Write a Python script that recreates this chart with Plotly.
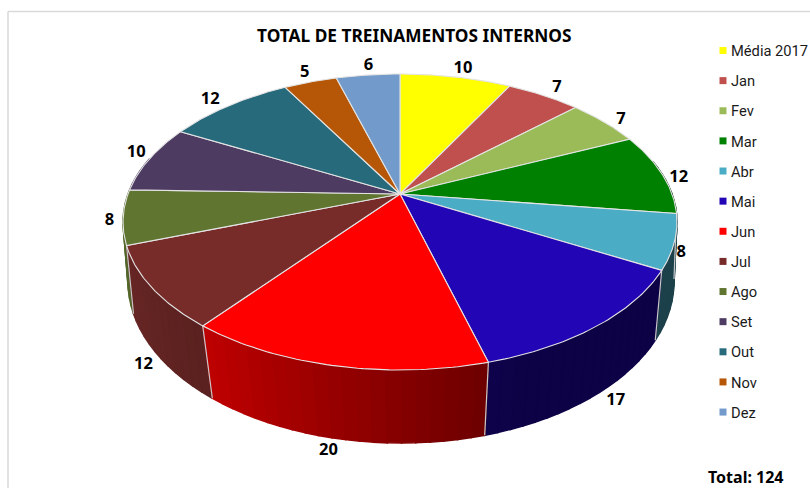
import numpy as np
import plotly.graph_objects as go

title = "TOTAL DE TREINAMENTOS INTERNOS"
categories = ["Média 2017", "Jan", "Fev", "Mar", "Abr", "Mai", "Jun", "Jul", "Ago", "Set", "Out", "Nov", "Dez"]
values = [10, 7, 7, 12, 8, 17, 20, 12, 8, 10, 12, 5, 6]
colors = ["#FFFF00", "#C0504D", "#9BBB59", "#008000", "#4BACC6", "#2205B5", "#FF0000",
          "#772C2A", "#5F7530", "#4D3B62", "#276A7C", "#B65708", "#729ACA"]
total_label = "Total: 124"

W, H = 810, 488
FONT = "Noto Sans"
LEGEND_FONT = "Roboto"
TOP = dict(cx=400, cy=194, a=272, b=142.7, k=0.189)
BOT = dict(cx=401, cy=257.6, a=270, b=158, k=0.148)
LEG_X, LEG_Y0, LEG_DY = 723, 50.5, 30.13
ANGLE_LEAD = np.radians(1.3)  # the reference's perspective widens the first slice slightly
# small hand placement of each data label relative to its computed anchor
label_dx = [3, 2, 0, -6, -2, 13, -6, -2, -5, 8, -5, 1, 3]
label_dy = [1, 0, 4, 6, 10, -7, -1, -1, 3, -3, 1, -1, 0]


def project(theta, r, d):
    u, v = r * np.sin(theta), r * np.cos(theta)
    w = 1 + d["k"] * v
    return d["cx"] + d["a"] * u / w, d["cy"] - d["b"] * v / w


def shade(hex_color, f):
    rgb = [int(hex_color[i:i + 2], 16) for i in (1, 3, 5)]
    return "rgb({},{},{})".format(*[int(round(c * f)) for c in rgb])


edges = np.cumsum([0] + values) / sum(values) * 2 * np.pi
edges[1:] = edges[1:] + ANGLE_LEAD * (1 - edges[1:] / (2 * np.pi))
fig = go.Figure()

# side wall, drawn from the outside of the pie towards the front
segments = []
for i, c in enumerate(colors):
    a0, a1 = edges[i], edges[i + 1]
    n = max(2, int((a1 - a0) / np.radians(2.5)))
    g = np.linspace(a0, a1, n + 1)
    for t0, t1 in zip(g[:-1], g[1:]):
        mid = (t0 + t1) / 2
        if np.cos(mid) < 0.25:
            segments.append((np.cos(mid), t0, t1, c))
segments.sort(key=lambda s: -s[0])
for _, t0, t1, c in segments:
    tt = np.linspace(t0, t1, 3)
    xt, yt = project(tt, 1, TOP)
    xb, yb = project(tt[::-1], 1, BOT)
    f = max(0.38, 0.52 - 0.37 * np.sin((t0 + t1) / 2))
    col = shade(c, f)
    fig.add_trace(go.Scatter(x=np.r_[xt, xb, xt[0]], y=np.r_[yt, yb, yt[0]], mode="lines",
                             fill="toself", fillcolor=col, line=dict(color=col, width=1.5),
                             hoverinfo="skip", showlegend=False))

# separators on the side wall
for e in edges:
    if np.cos(e) < 0:
        x0, y0 = project(e, 1, TOP)
        x1, y1 = project(e, 1, BOT)
        fig.add_trace(go.Scatter(x=[x0, x1], y=[y0, y1], mode="lines",
                                 line=dict(color="#C8C8C8", width=1.2),
                                 hoverinfo="skip", showlegend=False))

# top faces
for i, c in enumerate(colors):
    tt = np.linspace(edges[i], edges[i + 1], 60)
    x, y = project(tt, 1, TOP)
    fig.add_trace(go.Scatter(x=np.r_[TOP["cx"], x, TOP["cx"]], y=np.r_[TOP["cy"], y, TOP["cy"]],
                             mode="lines", fill="toself", fillcolor=c,
                             line=dict(color="#E4E4E4", width=1.1), name=categories[i],
                             showlegend=False))

# data labels
lx, ly = [], []
for i in range(len(values)):
    mid = (edges[i] + edges[i + 1]) / 2
    cv = np.cos(mid)
    if cv < -0.4:
        px, py = project(mid, 1.06, BOT)
    elif cv < 0.1:
        px, py = project(mid, 1.03, TOP)
    else:
        px, py = project(mid, 1.09, TOP)
    lx.append(float(px) + label_dx[i])
    ly.append(float(py) + label_dy[i])
fig.add_trace(go.Scatter(x=lx, y=ly, mode="text", text=[str(v) for v in values],
                         textposition="middle center",
                         textfont=dict(family=FONT, size=16.5, color="#000000", weight="bold"),
                         hoverinfo="skip", showlegend=False))

# legend entries, one marker and one text per category
for i, (name, c) in enumerate(zip(categories, colors)):
    y = LEG_Y0 + i * LEG_DY
    fig.add_trace(go.Scatter(x=[LEG_X], y=[y], mode="markers", name=name,
                             marker=dict(symbol="square", size=7, color=c),
                             hoverinfo="skip", showlegend=False))
    fig.add_trace(go.Scatter(x=[LEG_X + 8], y=[y + 2], mode="text", text=[name],
                             textposition="middle right",
                             textfont=dict(family=LEGEND_FONT, size=14.7, color="#1A1A1A"),
                             hoverinfo="skip", showlegend=False))

fig.update_layout(
    width=W, height=H, margin=dict(l=0, r=0, t=0, b=0),
    paper_bgcolor="white", plot_bgcolor="white", showlegend=False,
    xaxis=dict(range=[0, W], visible=False, fixedrange=True),
    yaxis=dict(range=[H, 0], visible=False, fixedrange=True),
    shapes=[
        dict(type="line", xref="x", yref="y", x0=8, x1=8, y0=11.5, y1=H, line=dict(color="#D9D9D9", width=1.5)),
        dict(type="line", xref="x", yref="y", x0=8, x1=W, y0=11.5, y1=11.5, line=dict(color="#D9D9D9", width=1.5)),
    ],
    annotations=[
        dict(x=414.5, y=35, xref="x", yref="y", text=title, showarrow=False,
             font=dict(family=FONT, size=17.3, color="#000000", weight="bold")),
        dict(x=746, y=477, xref="x", yref="y", text=total_label, showarrow=False,
             font=dict(family=FONT, size=16, color="#000000", weight="bold")),
    ],
)
fig.write_html("out.html", config={"displayModeBar": False},
               post_script="document.body.style.margin='0';document.documentElement.style.overflow='hidden';document.body.style.overflow='hidden';")
